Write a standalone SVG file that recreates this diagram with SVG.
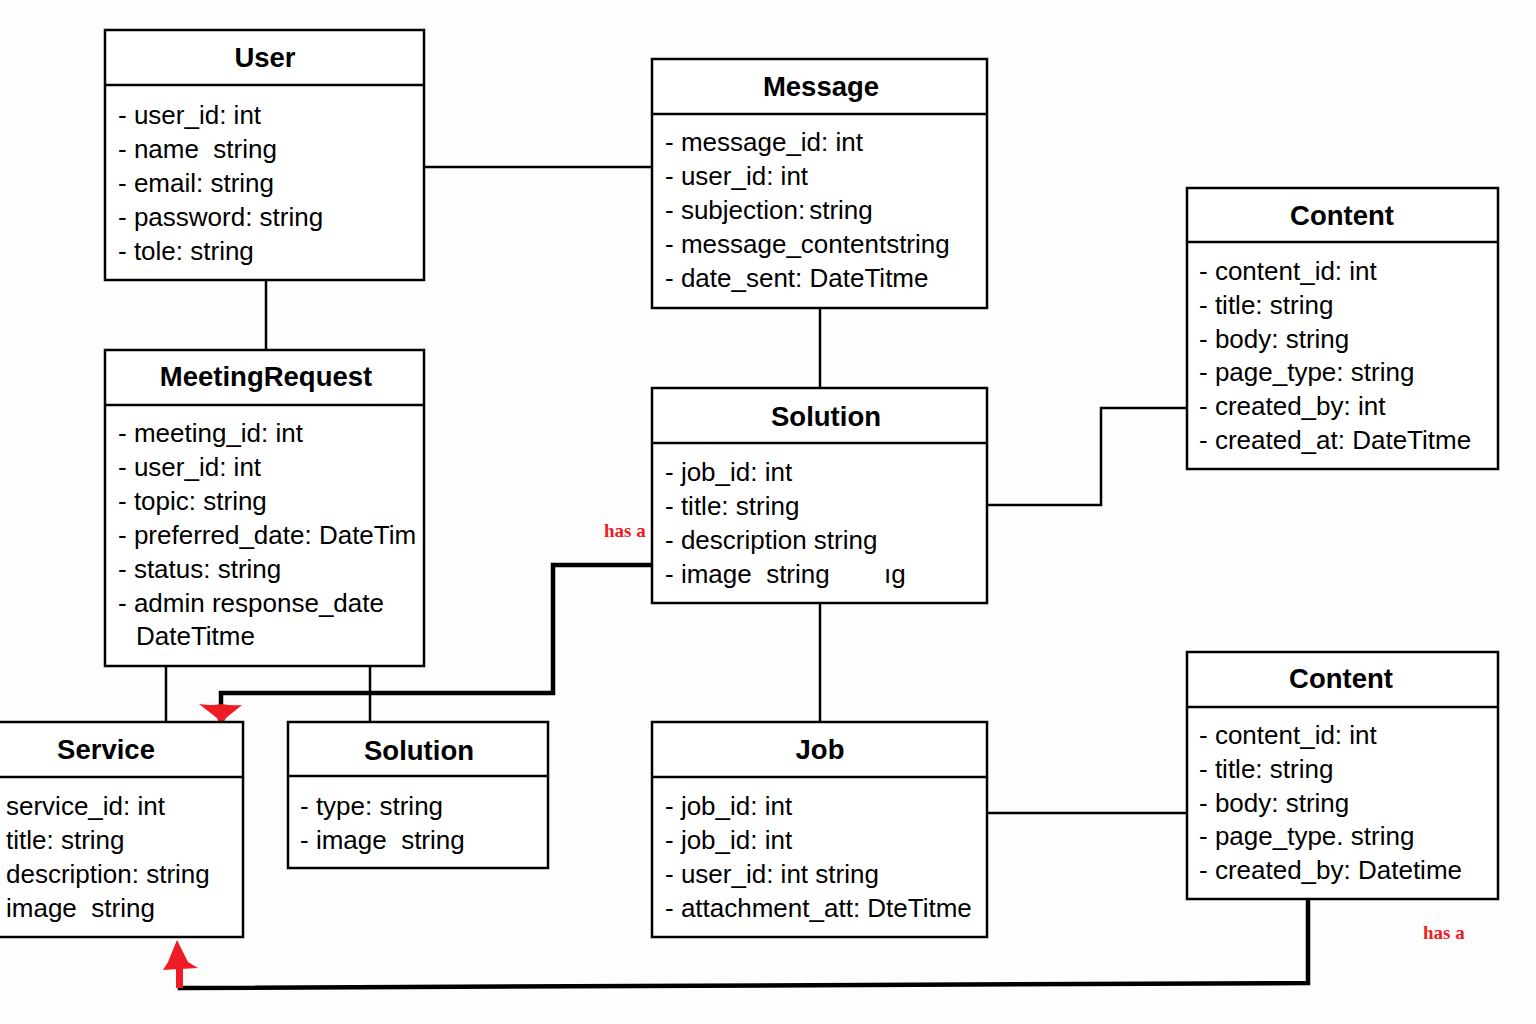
<svg xmlns="http://www.w3.org/2000/svg" width="1536" height="1024" viewBox="0 0 1536 1024">
<style>
.box{fill:#fff;stroke:#000;stroke-width:2.5}
.div{stroke:#000;stroke-width:2.5}
.h{font-family:"Liberation Sans",Arial,sans-serif;font-weight:bold;font-size:27.5px;text-anchor:middle;fill:#000}
.t{font-family:"Liberation Sans",Arial,sans-serif;font-size:26px;fill:#000;white-space:pre}
.thin{fill:none;stroke:#000;stroke-width:2.5}
.thick{fill:none;stroke:#000;stroke-width:4.5}
.red{fill:#ee1c24}
.lbl{font-family:"Liberation Serif","Times New Roman",serif;font-weight:bold;font-size:19px;fill:#ee1c24}
</style>
<rect width="1536" height="1024" fill="#fdfdfd"/>
<g id="connectors">
<path class="thin" d="M424 167H652"/>
<path class="thin" d="M266 280V350"/>
<path class="thin" d="M820 308V388"/>
<path class="thin" d="M987 505H1101V408H1187"/>
<path class="thin" d="M820 603V722"/>
<path class="thin" d="M987 813H1187"/>
<path class="thin" d="M166 666V722"/>
<path class="thin" d="M370 666V722"/>
<path class="thick" d="M654 565H553V693H221V724"/>
<path class="thick" d="M1308 899V983L180 988V958"/>
<path class="red" d="M199 704Q212 706 221 704Q232 706 242 705L226 718L221 727L217 718Z"/>
<path class="red" d="M177 940L168 962L163 970L198 968L188 962Z"/>
<rect class="red" x="176" y="960" width="7" height="28"/>
<text class="lbl" x="604" y="537">has a</text>
<text class="lbl" x="1423" y="939">has a</text>
</g>
<g id="user">
<rect class="box" x="105" y="30" width="319" height="250"/>
<line class="div" x1="105" y1="85" x2="424" y2="85"/>
<text class="h" x="265" y="67">User</text>
<text class="t" x="118" y="124">- user_id: int</text>
<text class="t" x="118" y="158">- name  string</text>
<text class="t" x="118" y="192">- email: string</text>
<text class="t" x="118" y="226">- password: string</text>
<text class="t" x="118" y="260">- tole: string</text>
</g>
<g id="message">
<rect class="box" x="652" y="59" width="335" height="249"/>
<line class="div" x1="652" y1="114" x2="987" y2="114"/>
<text class="h" x="821" y="96">Message</text>
<text class="t" x="665" y="151">- message_id: int</text>
<text class="t" x="665" y="185">- user_id: int</text>
<text class="t" x="665" y="219">- subjection:<tspan dx="4">string</tspan></text>
<text class="t" x="665" y="253">- message_contentstring</text>
<text class="t" x="665" y="287">- date_sent: DateTitme</text>
</g>
<g id="content-top">
<rect class="box" x="1187" y="188" width="311" height="281"/>
<line class="div" x1="1187" y1="242" x2="1498" y2="242"/>
<text class="h" x="1342" y="225">Content</text>
<text class="t" x="1199" y="280">- content_id: int</text>
<text class="t" x="1199" y="314">- title: string</text>
<text class="t" x="1199" y="348">- body: string</text>
<text class="t" x="1199" y="381">- page_type: string</text>
<text class="t" x="1199" y="415">- created_by: int</text>
<text class="t" x="1199" y="449">- created_at: DateTitme</text>
</g>
<g id="meetingrequest">
<rect class="box" x="105" y="350" width="319" height="316"/>
<line class="div" x1="105" y1="405" x2="424" y2="405"/>
<text class="h" x="266" y="386">MeetingRequest</text>
<text class="t" x="118" y="442">- meeting_id: int</text>
<text class="t" x="118" y="476">- user_id: int</text>
<text class="t" x="118" y="510">- topic: string</text>
<text class="t" x="118" y="544">- preferred_date: DateTim</text>
<text class="t" x="118" y="578">- status: string</text>
<text class="t" x="118" y="612">- admin response_date</text>
<text class="t" x="136" y="645">DateTitme</text>
</g>
<g id="solution-mid">
<rect class="box" x="652" y="388" width="335" height="215"/>
<line class="div" x1="652" y1="443" x2="987" y2="443"/>
<text class="h" x="826" y="426">Solution</text>
<text class="t" x="665" y="481">- job_id: int</text>
<text class="t" x="665" y="515">- title: string</text>
<text class="t" x="665" y="549">- description string</text>
<text class="t" x="665" y="583">- image  string</text>
<text class="t" x="884" y="583">ıg</text>
</g>
<g id="service">
<rect class="box" x="-2" y="722" width="245" height="215"/>
<line class="div" x1="-2" y1="777" x2="243" y2="777"/>
<text class="h" x="106" y="759">Service</text>
<text class="t" x="6" y="815">service_id: int</text>
<text class="t" x="6" y="849">title: string</text>
<text class="t" x="6" y="883">description: string</text>
<text class="t" x="6" y="917">image  string</text>
</g>
<g id="solution-small">
<rect class="box" x="288" y="722" width="260" height="146"/>
<line class="div" x1="288" y1="776" x2="548" y2="776"/>
<text class="h" x="419" y="760">Solution</text>
<text class="t" x="300" y="815">- type: string</text>
<text class="t" x="300" y="849">- image  string</text>
</g>
<g id="job">
<rect class="box" x="652" y="722" width="335" height="215"/>
<line class="div" x1="652" y1="777" x2="987" y2="777"/>
<text class="h" x="820" y="759">Job</text>
<text class="t" x="665" y="815">- job_id: int</text>
<text class="t" x="665" y="849">- job_id: int</text>
<text class="t" x="665" y="883">- user_id: int string</text>
<text class="t" x="665" y="917">- attachment_att: DteTitme</text>
</g>
<g id="content-bottom">
<rect class="box" x="1187" y="652" width="311" height="247"/>
<line class="div" x1="1187" y1="707" x2="1498" y2="707"/>
<text class="h" x="1341" y="688">Content</text>
<text class="t" x="1199" y="744">- content_id: int</text>
<text class="t" x="1199" y="778">- title: string</text>
<text class="t" x="1199" y="812">- body: string</text>
<text class="t" x="1199" y="845">- page_type. string</text>
<text class="t" x="1199" y="879">- created_by: Datetime</text>
</g>
</svg>
